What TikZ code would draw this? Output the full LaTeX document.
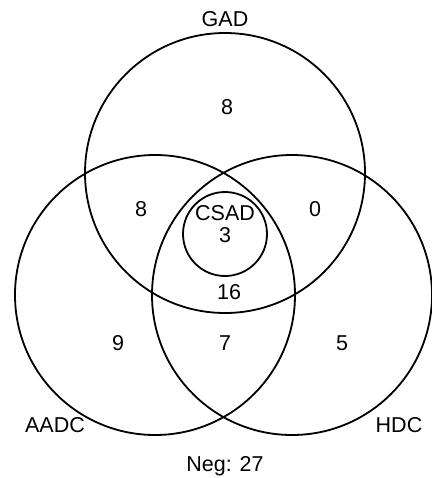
\documentclass[tikz,border=0pt]{standalone}
\usepackage{fontspec}
\setmainfont{Liberation Sans}
\begin{document}
\begin{tikzpicture}[
    x=1pt, y=-1pt,
    vennset/.style={draw=black, circle, line width=1.8pt,
                    inner sep=0pt, minimum size=2*\rr},
    subset/.style={vennset, minimum size=2*\rs},
    setname/.style={font=\fontsize{21.5}{25}\selectfont, inner sep=0pt},
    count/.style={font=\fontsize{21.5}{25}\selectfont, inner sep=0pt}
  ]
    \def\rr{140pt} \def\rs{42pt}
    \useasboundingbox (0,0) rectangle (431,478);

    \node[vennset] (gad)  at (225,173) {};
    \node[vennset] (aadc) at (155,295) {};
    \node[vennset] (hdc)  at (292,295) {};
    \node[subset]  (csad) at (225,234) {};

    \node[setname] (gadname)  at (225,19)  {GAD};
    \node[setname] (aadcname) at (55,425)  {AADC};
    \node[setname] (hdcname)  at (399,425) {HDC};
    \node[setname] (csadname) at (225,213) {CSAD};

    \node[count] (ngad)    at (227,107) {8};
    \node[count] (ngadaa)  at (141,209) {8};
    \node[count] (ngadhd)  at (315,209) {0};
    \node[count] (ncsad)   at (225,235) {3};
    \node[count] (nall)    at (229,292) {16};
    \node[count] (naadc)   at (118,343) {9};
    \node[count] (naahd)   at (225,343) {7};
    \node[count] (nhdc)    at (342,343) {5};
    \node[count] (neg)     at (225,466) {Neg: 27};
  \end{tikzpicture}
\end{document}
